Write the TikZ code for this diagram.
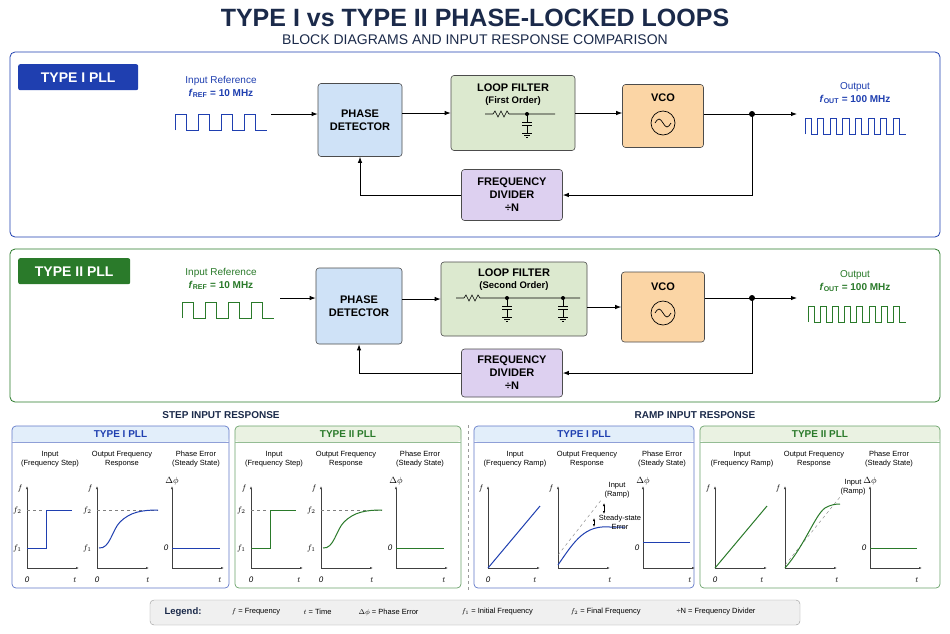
\documentclass[tikz,border=0pt]{standalone}
\usepackage{fontspec}
\setmainfont{Liberation Sans}
\usetikzlibrary{arrows.meta}
\definecolor{navy}{HTML}{1B2A4A}
\definecolor{bluea}{HTML}{1F3FB0}
\definecolor{greena}{HTML}{2A7A2A}
\definecolor{pdfill}{HTML}{CFE2F7}
\definecolor{lffill}{HTML}{DCE9CF}
\definecolor{vcofill}{HTML}{FBD5A5}
\definecolor{divfill}{HTML}{DDD0F0}
\tikzset{
  blk/.style={draw=black!70, rounded corners=3pt, align=center, font=\bfseries\fontsize{11}{13}\selectfont, line width=0.6pt},
  arr/.style={-{Latex[length=6pt]}, line width=0.9pt},
  tag/.style={rounded corners=2pt, text=white, font=\bfseries\fontsize{14}{16}\selectfont, minimum height=26pt, anchor=north west},
  ax/.style={-{Latex[length=3pt]}, black!75, line width=0.6pt},
  sm/.style={font=\fontsize{7.5}{9}\selectfont, align=center},
  lbl/.style={font=\fontsize{8}{9}\selectfont\itshape},
}
\newcommand{\sqwave}[5]{% x, ybase, color, n, half period
  \draw[#3, line width=0.9pt] (#1,#2) \foreach \k in {1,...,#4} { -- ++(0,-16) -- ++(#5,0) -- ++(0,16) -- ++(#5,0) };}
\newcommand{\capgnd}[2]{%
  \draw[line width=0.6pt] (#1,#2) -- ++(0,8) (#1-5,#2+8) -- ++(10,0) (#1-5,#2+11) -- ++(10,0) (#1,#2+11) -- ++(0,8)
    (#1-5,#2+19) -- ++(10,0) (#1-3,#2+21) -- ++(6,0) (#1-1,#2+23) -- ++(2,0);}
\newcommand{\plotaxes}[3]{% x0, y0, ylabel
  \draw[ax] (#1,#2) -- (#1,#2-82); \draw[ax] (#1,#2) -- (#1+52,#2);
  \node[lbl, anchor=east] at (#1-1,#2-80) {#3};}
\begin{document}
\begin{tikzpicture}[x=1pt, y=-1pt]
  \useasboundingbox[fill=white] (0,0) rectangle (950,633);
  % title
  \node[navy, font=\bfseries\fontsize{25}{27}\selectfont] (title) at (475,18) {TYPE I vs TYPE II PHASE-LOCKED LOOPS};
  \node[navy, font=\fontsize{14}{16}\selectfont] (subtitle) at (475,40) {BLOCK DIAGRAMS AND INPUT RESPONSE COMPARISON};

  % type I panel
  \draw[bluea, rounded corners=5pt, line width=0.8pt] (10,52) rectangle (940,237);
  \node[tag, fill=bluea, minimum width=120pt] (tagA) at (18,64) {TYPE I PLL};
  \node[bluea, font=\fontsize{10}{12}\selectfont, align=center] (inA) at (221,87) {Input Reference\\[1pt]\textbf{\textit{f}\textsubscript{REF} = 10 MHz}};
  \sqwave{175}{130}{bluea}{4}{11.5}
  \coordinate (srcA) at (271,114);
  \node[blk, fill=pdfill, minimum width=84pt, minimum height=73pt] (pdA) at (360,120) {PHASE\\DETECTOR};
  \node[blk, fill=lffill, minimum width=124pt, minimum height=75pt] (lfA) at (513,113) {};
  \node[font=\bfseries\fontsize{11}{13}\selectfont, align=center] at (513,95) {LOOP FILTER\\[-1pt]{\fontsize{9.5}{11}\selectfont(First Order)}};
  \draw[line width=0.6pt] (485,114) -- ++(8,0) -- ++(2,-3) -- ++(3,6) -- ++(3,-6) -- ++(3,6) -- ++(3,-6) -- ++(2,3) -- (555,114);
  \fill (527,114) circle (2pt);
  \capgnd{527}{114}
  \node[blk, fill=vcofill, minimum width=81pt, minimum height=63pt] (vcoA) at (663,116) {};
  \node[font=\bfseries\fontsize{11}{13}\selectfont] at (663,98) {VCO};
  \draw[line width=0.7pt] (663,123) circle (12pt);
  \draw[line width=0.7pt] (655,123) sin (659,119) cos (663,123) sin (667,127) cos (671,123);
  \node[bluea, font=\fontsize{10}{12}\selectfont, align=center] (outA) at (855,93) {Output\\[1pt]\textbf{\textit{f}\textsubscript{OUT} = 100 MHz}};
  \sqwave{805}{134}{bluea}{8}{6.3}
  \coordinate (endA) at (797,114);
  \node[blk, fill=divfill, minimum width=101pt, minimum height=51pt] (divA) at (512,195) {FREQUENCY\\DIVIDER\\\textbf{÷N}};
  \fill (752,114) circle (3pt) coordinate (jA);
  \draw[arr] (srcA) -- (srcA -| pdA.west);
  \draw[arr] (pdA.east |- lfA) -- (lfA.west);
  \draw[arr] (lfA.east) -- (lfA.east -| vcoA.west);
  \draw[arr] (vcoA.east |- jA) -- (endA);
  \draw[arr] (jA) |- (divA.east);
  \draw[arr] (divA.west) -| (pdA.south);

  % type II panel
  \draw[greena, rounded corners=5pt, line width=0.8pt] (10,249) rectangle (940,402);
  \node[tag, fill=greena, minimum width=112pt] (tagB) at (18,258) {TYPE II PLL};
  \node[greena, font=\fontsize{10}{12}\selectfont, align=center] (inB) at (221,279) {Input Reference\\[1pt]\textbf{\textit{f}\textsubscript{REF} = 10 MHz}};
  \sqwave{182}{318}{greena}{4}{11.5}
  \coordinate (srcB) at (280,298);
  \node[blk, fill=pdfill, minimum width=86pt, minimum height=76pt] (pdB) at (359,306) {PHASE\\DETECTOR};
  \node[blk, fill=lffill, minimum width=146pt, minimum height=74pt] (lfB) at (514,299) {};
  \node[font=\bfseries\fontsize{11}{13}\selectfont, align=center] at (514,280) {LOOP FILTER\\[-1pt]{\fontsize{9.5}{11}\selectfont(Second Order)}};
  \draw[line width=0.6pt] (456,298) -- ++(8,0) -- ++(2,-3) -- ++(3,6) -- ++(3,-6) -- ++(3,6) -- ++(3,-6) -- ++(2,3) -- (580,298);
  \fill (507,298) circle (2pt); \fill (563,298) circle (2pt);
  \capgnd{507}{298}
  \capgnd{563}{298}
  \node[blk, fill=vcofill, minimum width=83pt, minimum height=70pt] (vcoB) at (663,307) {};
  \node[font=\bfseries\fontsize{11}{13}\selectfont] at (663,287) {VCO};
  \draw[line width=0.7pt] (663,313) circle (12pt);
  \draw[line width=0.7pt] (655,313) sin (659,309) cos (663,313) sin (667,317) cos (671,313);
  \node[greena, font=\fontsize{10}{12}\selectfont, align=center] (outB) at (855,281) {Output\\[1pt]\textbf{\textit{f}\textsubscript{OUT} = 100 MHz}};
  \sqwave{808}{322}{greena}{8}{6.1}
  \coordinate (endB) at (797,298);
  \node[blk, fill=divfill, minimum width=101pt, minimum height=48pt] (divB) at (512,373) {FREQUENCY\\DIVIDER\\\textbf{÷N}};
  \fill (752,298) circle (3pt) coordinate (jB);
  \draw[arr] (srcB) -- (srcB -| pdB.west);
  \draw[arr] (pdB.east |- lfB) -- (lfB.west);
  \draw[arr] (lfB.east |- vcoB) -- (vcoB.west);
  \draw[arr] (vcoB.east |- jB) -- (endB);
  \draw[arr] (jB) |- (divB.east);
  \draw[arr] (divB.west) -| (pdB.south);

  % response panels
  \node[navy, font=\bfseries\fontsize{10}{12}\selectfont] (stephd) at (221,415) {STEP INPUT RESPONSE};
  \node[navy, font=\bfseries\fontsize{10}{12}\selectfont] (ramphd) at (695,415) {RAMP INPUT RESPONSE};
  \draw[black!40, dashed] (468,425) -- (468,590);
  \foreach \xa/\xb/\col/\txt/\fl in {12/229/bluea/TYPE I PLL/pdfill, 235/461/greena/TYPE II PLL/lffill,
                                     474/694/bluea/TYPE I PLL/pdfill, 700/940/greena/TYPE II PLL/lffill} {
    \fill[\fl!60, rounded corners=4pt] (\xa,426) rectangle (\xb,442);
    \draw[\col!70, rounded corners=4pt, line width=0.7pt] (\xa,426) rectangle (\xb,588);
    \draw[\col!50] (\xa,442) -- (\xb,442);
    \node[\col, font=\bfseries\fontsize{10}{12}\selectfont] at ({(\xa+\xb)/2},434) {\txt};
  }
  % step plots
  \foreach \p/\col in {0/bluea, 224/greena} {
    \begin{scope}[xshift=\p]
      \node[sm] at (50,459) {Input\\(Frequency Step)};
      \node[sm] at (122,459) {Output Frequency\\Response};
      \node[sm] at (196,459) {Phase Error\\(Steady State)};
      \plotaxes{27}{568}{$f$}
      \node[lbl] at (27,580) {0}; \node[lbl] at (75,580) {$t$};
      \node[lbl, anchor=east] at (25,510) {$f_2$}; \node[lbl, anchor=east] at (25,548) {$f_1$};
      \draw[black!50, dashed] (27,510) -- (45,510);
      \draw[\col, line width=1pt] (27,548) -- (46,548) -- (46,510) -- (72,510);
      \plotaxes{97}{568}{$f$}
      \node[lbl] at (97,580) {0}; \node[lbl] at (148,580) {$t$};
      \node[lbl, anchor=east] at (95,510) {$f_2$}; \node[lbl, anchor=east] at (95,548) {$f_1$};
      \draw[black!50, dashed] (97,510) -- (158,510);
      \draw[\col, line width=1pt] (99,548) .. controls (110,549) and (112,530) .. (120,522) .. controls (130,512) and (142,510) .. (158,510);
      \plotaxes{172}{568}{}
      \node[font=\small] at (172,481) {$\Delta\phi$};
      \node[lbl] at (166,548) {0}; \node[lbl] at (220,580) {$t$};
      \draw[\col, line width=1pt] (172,548) -- (220,548);
    \end{scope}
  }
  % ramp plots
  \foreach \p/\col in {0/bluea, 227/greena} {
    \begin{scope}[xshift=\p]
      \node[sm] at (515,459) {Input\\(Frequency Ramp)};
      \node[sm] at (587,459) {Output Frequency\\Response};
      \node[sm] at (662,459) {Phase Error\\(Steady State)};
      \plotaxes{488}{568}{$f$}
      \node[lbl] at (488,580) {0}; \node[lbl] at (535,580) {$t$};
      \draw[\col, line width=1pt] (488,568) -- (540,506);
      \plotaxes{558}{568}{$f$}
      \node[lbl] at (610,580) {$t$};
      \plotaxes{643}{568}{}
      \node[font=\small] at (643,481) {$\Delta\phi$};
      \node[lbl] at (637,548) {0}; \node[lbl] at (690,580) {$t$};
    \end{scope}
  }
  % type I ramp response
  \draw[black!50, dashed] (558,555) -- (602,499);
  \draw[bluea, line width=1pt] (558,565) .. controls (575,540) and (585,525) .. (610,527) -- (625,527);
  \draw[black, line width=0.5pt, <->, >={Latex[length=3pt]}] (604,503) -- (604,514);
  \draw[black, line width=0.5pt, <->, >={Latex[length=3pt]}] (594,518) -- (594,527);
  \node[sm] at (617,490) {Input\\(Ramp)};
  \node[sm] at (620,522) {Steady-state\\Error};
  \draw[bluea, line width=1pt] (643,542) -- (690,542);
  % type II ramp response
  \draw[black!50, dashed] (785,565) -- (840,497);
  \draw[greena, line width=1pt] (785,568) .. controls (805,545) and (815,515) .. (825,508) .. controls (830,505) and (835,504) .. (840,504);
  \node[sm] at (853,487) {Input\\(Ramp)};
  \draw[greena, line width=1pt] (870,548) -- (917,548);

  % legend
  \draw[black!40, fill=black!6, rounded corners=4pt] (150,600) rectangle (800,625);
  \node[font=\bfseries\fontsize{9.5}{11}\selectfont, navy] (leg) at (183,612) {Legend:};
  \node[sm, anchor=west] at (228,612) {$f$ = Frequency};
  \node[sm, anchor=west] at (300,612) {$t$ = Time};
  \node[sm, anchor=west] at (355,612) {$\Delta\phi$ = Phase Error};
  \node[sm, anchor=west] at (458,612) {$f_1$ = Initial Frequency};
  \node[sm, anchor=west] at (567,612) {$f_2$ = Final Frequency};
  \node[sm, anchor=west] at (673,612) {÷N = Frequency Divider};
\end{tikzpicture}
\end{document}
